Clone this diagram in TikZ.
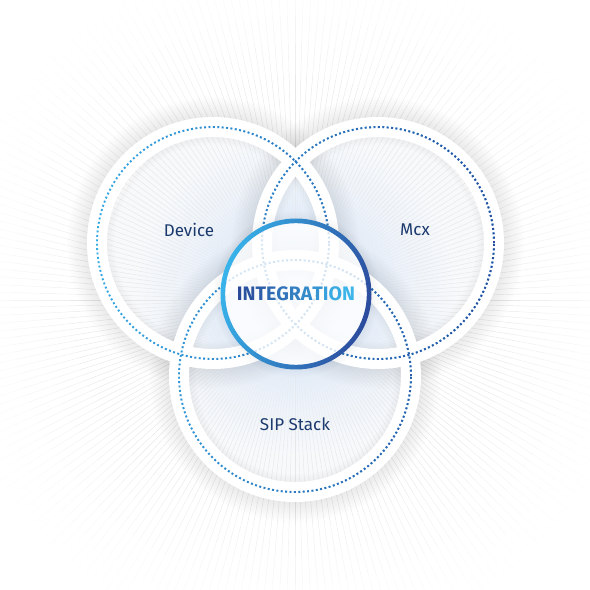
\documentclass[tikz,border=0pt]{standalone}
\usepackage{fontspec}
\setmainfont{Fira Sans}
\usetikzlibrary{fadings}
\definecolor{labelc}{HTML}{1B3A6E}
\definecolor{lightB}{HTML}{33A9E6}
\definecolor{darkB}{HTML}{2A4A9C}
\definecolor{ringL}{HTML}{38B4EA}
\definecolor{ringR}{HTML}{2C4B9D}
\definecolor{txtL}{HTML}{3CB6EA}
\definecolor{txtD}{HTML}{2A4898}
\definecolor{glowA}{HTML}{E2EDFA}
\definecolor{glowB}{HTML}{EDF3FA}
\definecolor{glowC}{HTML}{F7F9FB}
\pgfdeclareradialshading{glowshade}{\pgfpointorigin}{color(0bp)=(glowA); color(9bp)=(glowA); color(14bp)=(glowB); color(20bp)=(glowC); color(50bp)=(glowC)}
\tikzfading[name=lrfade, left color=transparent!100, middle color=transparent!100, right color=transparent!0]
\tikzset{
  rays/.style={black!10, line width=0.45pt},
  whitering/.style={white, line width=20pt},
  dotring/.style={line width=1.9pt, dash pattern=on 1.9pt off 2.5pt},
  lbl/.style={text=labelc, font=\fontsize{17}{20}\selectfont, inner sep=0pt},
}
\begin{document}
\begin{tikzpicture}[x=1pt,y=1pt]
\useasboundingbox (0,0) rectangle (590,590);
\fill[white] (0,0) rectangle (590,590);
\coordinate (rc) at (295,290);
\coordinate (cD) at (213,347);
\coordinate (cM) at (378,347);
\coordinate (cS) at (295,214);
\coordinate (ic) at (296,296);
% interior glow
\begin{scope}
  \clip (cD) circle (116) (cM) circle (116) (cS) circle (116);
  \shade[shading=glowshade] (ic) circle (200);
\end{scope}
% rays, fading outwards
\foreach \a in {0,1.5,...,358.5}{
  \draw[rays, shift={(rc)}, draw opacity=0.5] (\a:75) -- (\a:120);
  \draw[rays, shift={(rc)}, draw opacity=0.85] (\a:120) -- (\a:225);
  \draw[rays, shift={(rc)}, draw opacity=0.6] (\a:225) -- (\a:255);
  \draw[rays, shift={(rc)}, draw opacity=0.4] (\a:255) -- (\a:285);
  \draw[rays, shift={(rc)}, draw opacity=0.2] (\a:285) -- (\a:315);
  \draw[rays, shift={(rc)}, draw opacity=0.07] (\a:315) -- (\a:345);
}
% shadows
\foreach \c in {cD,cM,cS}{
  \foreach \w in {4,8,...,40}
    \draw[black, opacity=0.009, line width=\w pt] (\c) circle (126);
  \foreach \w in {3,6,...,15}
    \draw[black, opacity=0.007, line width=\w pt] (\c) circle (106);
}
% white rings
\foreach \c in {cD,cM,cS}
  \draw[whitering] (\c) circle (116);
% dotted rings
\draw[dotring, lightB] (cD) circle (116) (cM) circle (116) (cS) circle (116);
\draw[dotring, darkB, path fading=lrfade] (cD) circle (116) (cM) circle (116) (cS) circle (116);
% integration circle
\foreach \w in {3,6,...,15}
  \draw[black, opacity=0.008, line width=\w pt] (ic) circle (76);
\fill[white, opacity=0.8] (ic) circle (75);
\shade[even odd rule, left color=ringL, right color=ringR, shading angle=75] (ic) circle (75.5) (ic) circle (70.8);
\node[inner sep=0pt] (integ) at (ic) {\fontsize{19.5}{20}\selectfont\bfseries
  \textcolor{txtD!100!txtL}{I}\textcolor{txtD!90!txtL}{N}\textcolor{txtD!80!txtL}{T}\textcolor{txtD!70!txtL}{E}\textcolor{txtD!60!txtL}{G}\textcolor{txtD!50!txtL}{R}\textcolor{txtD!40!txtL}{A}\textcolor{txtD!30!txtL}{T}\textcolor{txtD!20!txtL}{I}\textcolor{txtD!10!txtL}{O}\textcolor{txtD!0!txtL}{N}};
% labels
\node[lbl] (dev) at (189,360) {Device};
\node[lbl] (mcx) at (415,360) {Mcx};
\node[lbl] (sip) at (295,166) {SIP Stack};
\end{tikzpicture}
\end{document}
